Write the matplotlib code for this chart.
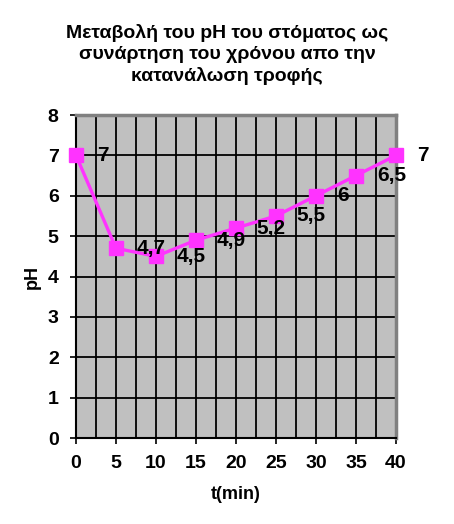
import numpy as np
from matplotlib import pyplot as plt
from matplotlib.ticker import MultipleLocator

plt.rcParams["font.family"] = ["Liberation Sans", "DejaVu Sans"]
plt.rcParams["font.weight"] = "bold"

t_min = [0, 5, 10, 15, 20, 25, 30, 35, 40]
ph = [7, 4.7, 4.5, 4.9, 5.2, 5.5, 6, 6.5, 7]
title = "Μεταβολή του pH του στόματος ως\nσυνάρτηση του χρόνου απο την\nκατανάλωση τροφής"

fig = plt.figure(figsize=(4.54, 5.24), dpi=100)
ax = fig.add_axes([0.1674, 0.1641, 0.7048, 0.6164])
ax.set_facecolor("#c0c0c0")

ax.plot(t_min, ph, color="#ff33ff", linewidth=2.4, marker="s", markersize=9.4,
        clip_on=False, zorder=3)

for x, y in zip(t_min, ph):
    label = f"{y:g}".replace(".", ",")
    ax.annotate(label, (x, y), xytext=(15, 0), textcoords="offset points",
                ha="left", va="center", fontsize=15, fontweight="bold",
                annotation_clip=False, zorder=4)

ax.set_xlim(0, 40)
ax.set_ylim(0, 8)
ax.xaxis.set_major_locator(MultipleLocator(5))
ax.xaxis.set_minor_locator(MultipleLocator(2.5))
ax.yaxis.set_major_locator(MultipleLocator(1))
ax.grid(True, which="major", color="black", linewidth=1.3)
ax.grid(True, which="minor", axis="x", color="black", linewidth=1.3)
ax.set_axisbelow(True)

ax.tick_params(axis="both", which="major", direction="out", length=4,
               width=1.2, labelsize=14, pad=8.5)
ax.tick_params(axis="x", which="minor", length=0)
for lbl in ax.get_xticklabels() + ax.get_yticklabels():
    lbl.set_fontweight("bold")

for side in ["left", "bottom"]:
    ax.spines[side].set_color("black")
    ax.spines[side].set_linewidth(1.5)
for side in ["top", "right"]:
    ax.spines[side].set_color("#808080")
    ax.spines[side].set_linewidth(2.5)

ax.set_xlabel("t(min)", fontsize=13, fontweight="bold", labelpad=10)
ax.set_ylabel("pH", fontsize=13, fontweight="bold", labelpad=5)

fig.text(0.5, 0.955, title, ha="center", va="top", fontsize=14,
         fontweight="bold", linespacing=1.32)

fig.savefig("out.png", dpi=100)
